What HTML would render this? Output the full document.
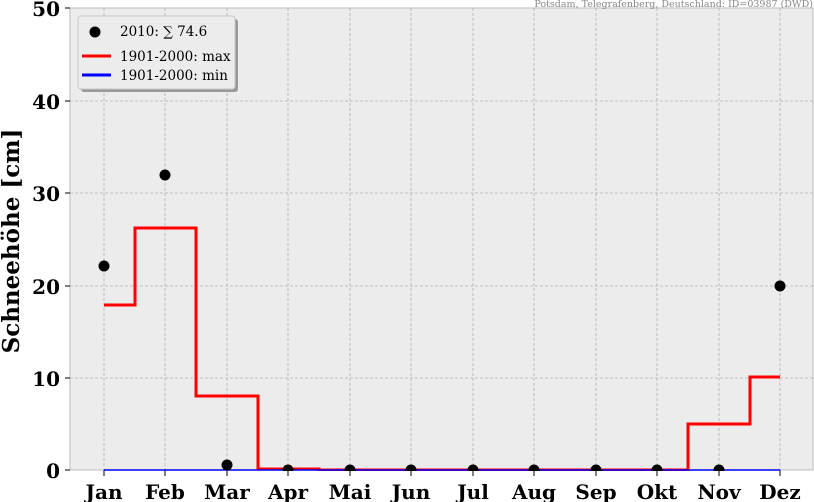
<!DOCTYPE html>
<html><head><meta charset="utf-8"><style>
html,body{margin:0;padding:0;background:#fff;}
svg{display:block;font-family:"DejaVu Serif","Liberation Serif",serif;}
</style></head><body>
<svg width="814" height="502" viewBox="0 0 814 502" xmlns="http://www.w3.org/2000/svg">
<defs><clipPath id="c"><rect x="70" y="8" width="744" height="463"/></clipPath></defs>
<rect x="70" y="8" width="743" height="462" fill="#ececec" stroke="#bcbcbc" stroke-width="1"/>
<g stroke="#b0b0b0" stroke-width="0.8" stroke-dasharray="3,2">
<line x1="104" y1="8" x2="104" y2="470"/><line x1="165" y1="8" x2="165" y2="470"/><line x1="227" y1="8" x2="227" y2="470"/><line x1="288" y1="8" x2="288" y2="470"/><line x1="350" y1="8" x2="350" y2="470"/><line x1="411" y1="8" x2="411" y2="470"/><line x1="473" y1="8" x2="473" y2="470"/><line x1="534" y1="8" x2="534" y2="470"/><line x1="596" y1="8" x2="596" y2="470"/><line x1="657" y1="8" x2="657" y2="470"/><line x1="719" y1="8" x2="719" y2="470"/><line x1="780" y1="8" x2="780" y2="470"/>
<line x1="70" y1="101" x2="813" y2="101"/><line x1="70" y1="193" x2="813" y2="193"/><line x1="70" y1="286" x2="813" y2="286"/><line x1="70" y1="378" x2="813" y2="378"/>
</g>
<g stroke="#000" stroke-width="1">
<line x1="65" y1="8" x2="70" y2="8"/><line x1="65" y1="101" x2="70" y2="101"/><line x1="65" y1="193" x2="70" y2="193"/><line x1="65" y1="286" x2="70" y2="286"/><line x1="65" y1="378" x2="70" y2="378"/><line x1="65" y1="470" x2="70" y2="470"/>
<line x1="104" y1="470" x2="104" y2="476"/><line x1="165" y1="470" x2="165" y2="476"/><line x1="227" y1="470" x2="227" y2="476"/><line x1="288" y1="470" x2="288" y2="476"/><line x1="350" y1="470" x2="350" y2="476"/><line x1="411" y1="470" x2="411" y2="476"/><line x1="473" y1="470" x2="473" y2="476"/><line x1="534" y1="470" x2="534" y2="476"/><line x1="596" y1="470" x2="596" y2="476"/><line x1="657" y1="470" x2="657" y2="476"/><line x1="719" y1="470" x2="719" y2="476"/><line x1="780" y1="470" x2="780" y2="476"/>
</g>
<g clip-path="url(#c)">
<polyline fill="none" stroke="#ff0000" stroke-width="3" points="104,305 135,305 135,228 196,228 196,396 258,396 258,469 319,469 319,470 688,470 688,424 750,424 750,377 780,377"/>
<line x1="104" y1="470" x2="780" y2="470" stroke="#0000ff" stroke-width="1.5"/>
<g fill="#000">
<circle cx="104" cy="266" r="5.5"/><circle cx="165" cy="175" r="5.5"/><circle cx="227" cy="465" r="5.5"/><circle cx="288" cy="470" r="5.5"/><circle cx="350" cy="470" r="5.5"/><circle cx="411" cy="470" r="5.5"/><circle cx="473" cy="470" r="5.5"/><circle cx="534" cy="470" r="5.5"/><circle cx="596" cy="470" r="5.5"/><circle cx="657" cy="470" r="5.5"/><circle cx="719" cy="470" r="5.5"/><circle cx="780" cy="286" r="5.5"/>
</g>
</g>
<g fill="#000" font-weight="bold" font-size="20" text-anchor="end">
<text x="60" y="16">50</text><text x="60" y="109">40</text><text x="60" y="201">30</text><text x="60" y="294">20</text><text x="60" y="386">10</text><text x="60" y="478">0</text>
</g>
<g fill="#000" font-weight="bold" font-size="20" text-anchor="middle">
<text x="104" y="499">Jan</text><text x="165" y="499">Feb</text><text x="227" y="499">Mar</text><text x="288" y="499">Apr</text><text x="350" y="499">Mai</text><text x="411" y="499">Jun</text><text x="473" y="499">Jul</text><text x="534" y="499">Aug</text><text x="596" y="499">Sep</text><text x="657" y="499">Okt</text><text x="719" y="499">Nov</text><text x="780" y="499">Dez</text>
</g>
<text transform="translate(19,241) rotate(-90)" text-anchor="middle" font-weight="bold" font-size="23" fill="#000">Schneehöhe [cm]</text>
<text x="813" y="7" text-anchor="end" font-size="9.5" fill="#888">Potsdam, Telegrafenberg, Deutschland: ID=03987 (DWD)</text>
<rect x="81" y="19" width="157" height="73" rx="3" fill="#999"/>
<rect x="78" y="16" width="157" height="73" rx="3" fill="#ececec" stroke="#c8c8c8"/>
<circle cx="95" cy="32" r="5.5" fill="#000"/>
<text x="120" y="36" font-size="13.5" fill="#000">2010: ∑ 74.6</text>
<line x1="82" y1="56" x2="111" y2="56" stroke="#ff0000" stroke-width="3"/>
<text x="120" y="61" font-size="13.5" fill="#000">1901-2000: max</text>
<line x1="82" y1="75" x2="111" y2="75" stroke="#0000ff" stroke-width="3"/>
<text x="120" y="80" font-size="13.5" fill="#000">1901-2000: min</text>
</svg>
</body></html>
